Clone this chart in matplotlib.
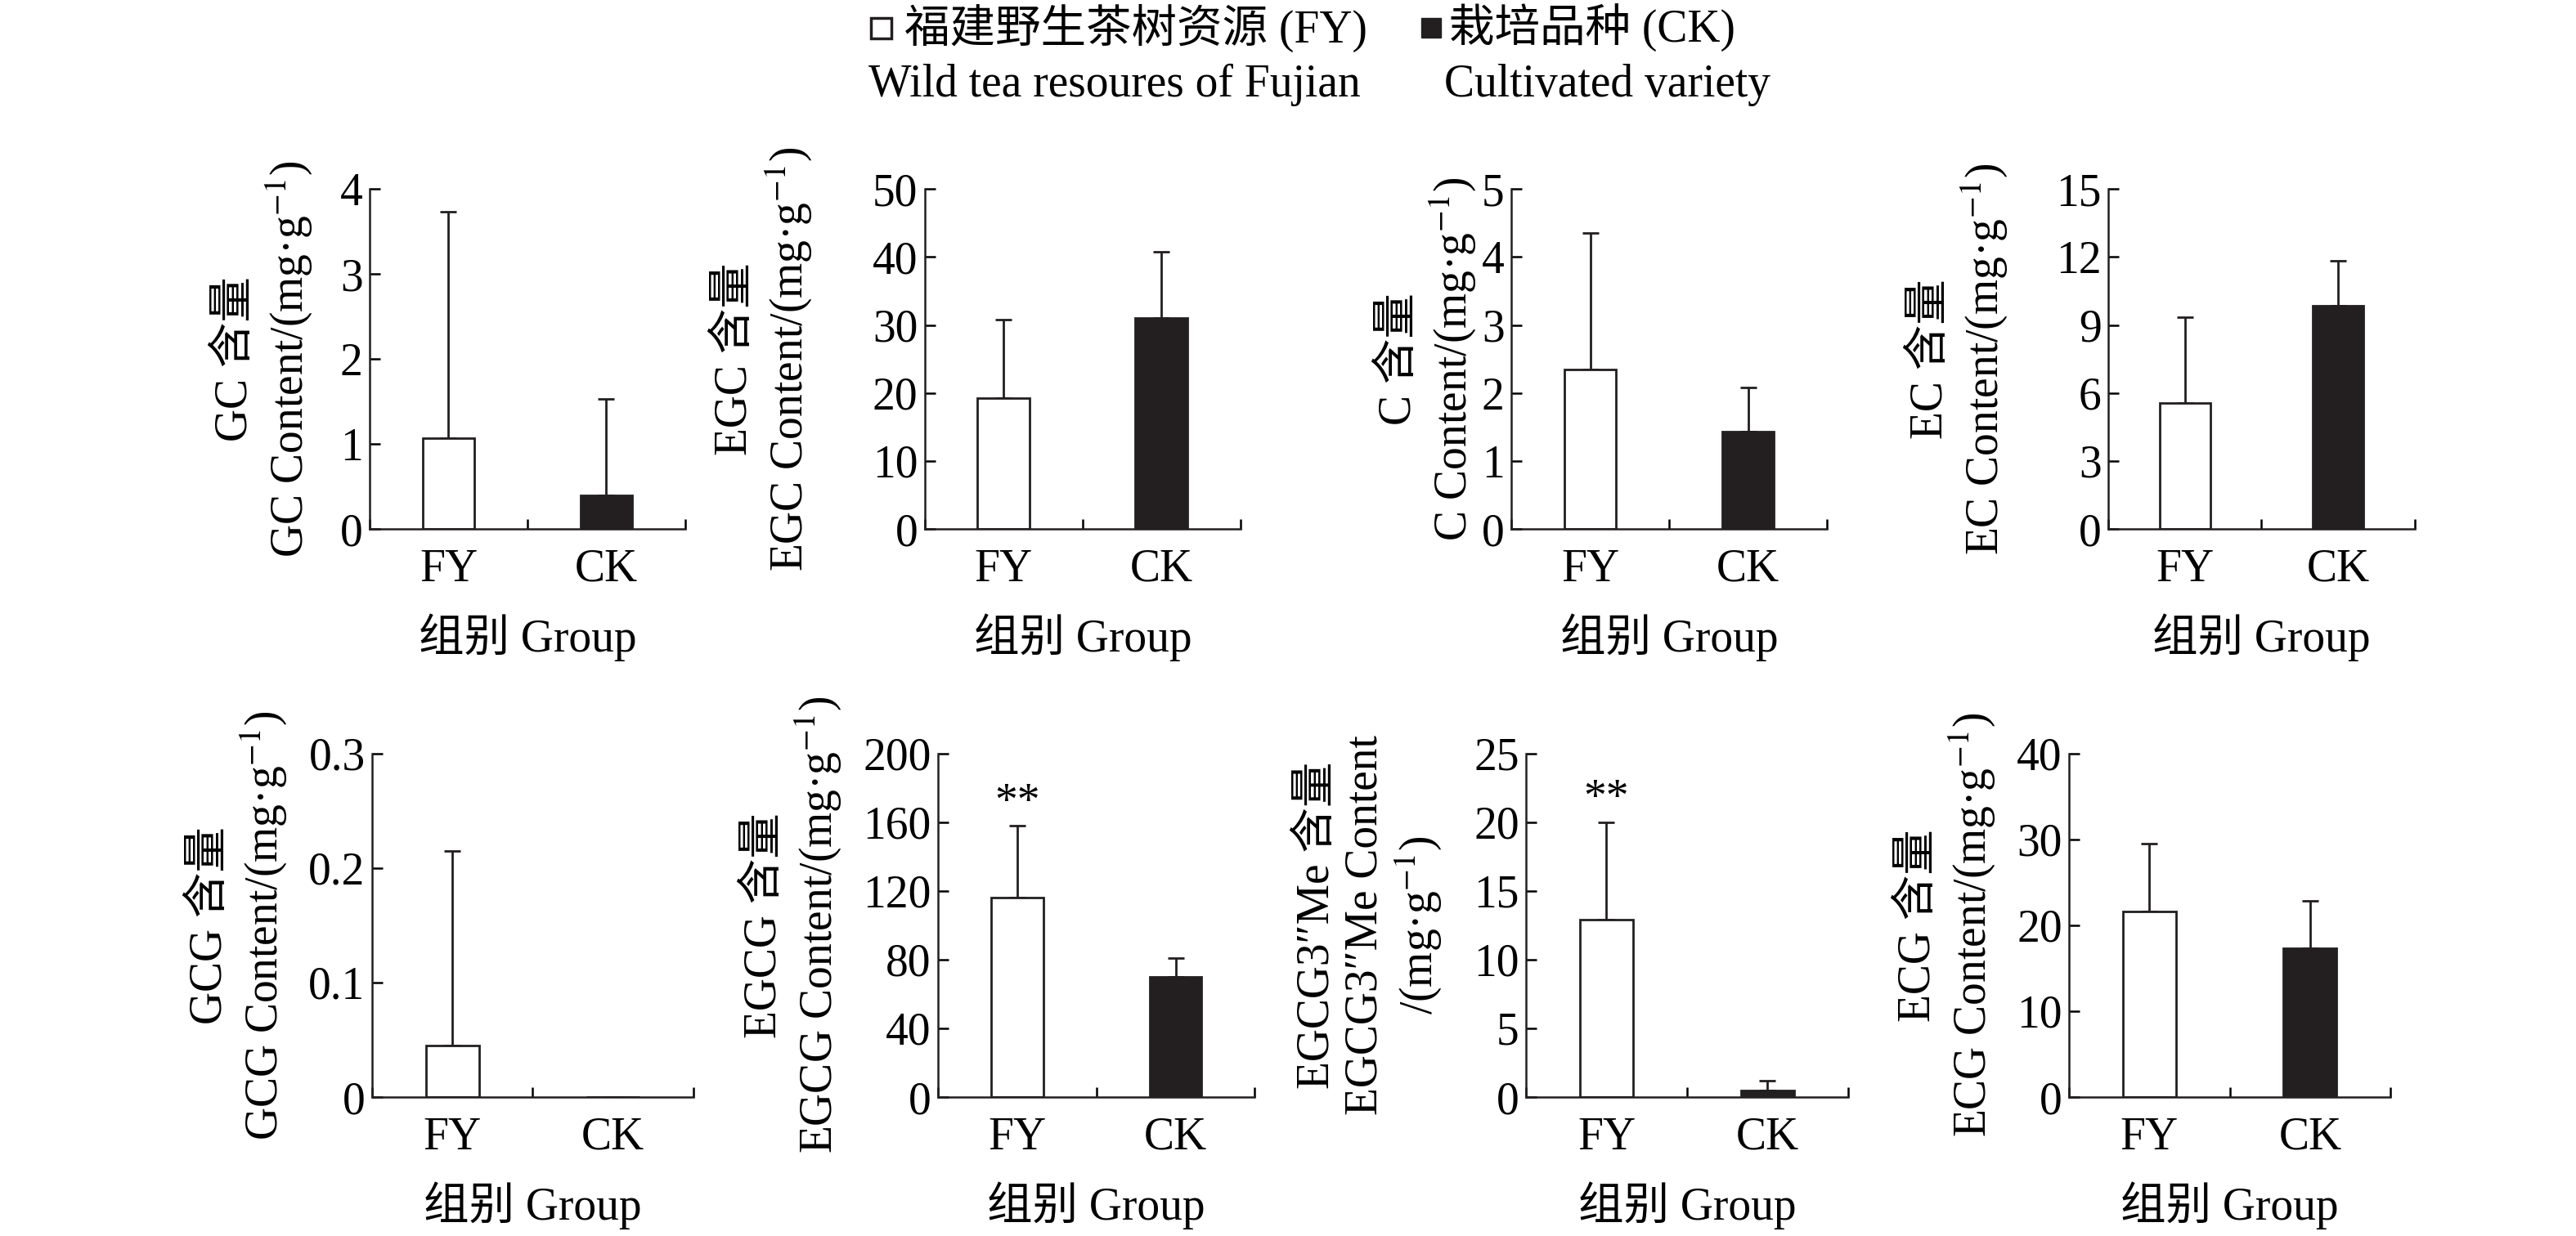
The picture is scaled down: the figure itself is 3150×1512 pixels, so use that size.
import numpy as np
import matplotlib
matplotlib.use("Agg")
import matplotlib.pyplot as plt
from matplotlib.lines import Line2D

plt.rcParams['font.family'] = ['Liberation Serif', 'Noto Sans CJK SC', 'DejaVu Sans']
plt.rcParams['mathtext.fontset'] = 'stix'

# Data
groups = ['FY', 'CK']
compounds = ['GC', 'EGC', 'C', 'EC', 'GCG', 'EGCG', 'EGCG3″Me', 'ECG']
fy_mean = [1.07, 19.3, 2.35, 5.55, 0.045, 116, 12.9, 21.6]
fy_top = [3.73, 30.8, 4.35, 9.35, 0.215, 158, 20.0, 29.5]
ck_mean = [0.40, 31.0, 1.43, 9.85, 0.0, 70, 0.45, 17.3]
ck_top = [1.53, 40.8, 2.08, 11.85, 0.0, 81, 1.2, 22.8]
y_max = [4, 50, 5, 15, 0.3, 200, 25, 40]
y_ticks = [
    [0, 1, 2, 3, 4],
    [0, 10, 20, 30, 40, 50],
    [0, 1, 2, 3, 4, 5],
    [0, 3, 6, 9, 12, 15],
    [0, 0.1, 0.2, 0.3],
    [0, 40, 80, 120, 160, 200],
    [0, 5, 10, 15, 20, 25],
    [0, 10, 20, 30, 40],
]
signif = ['', '', '', '', '', '**', '**', '']
ylabels = [
    'GC 含量\nGC Content/(mg·g$^{-1}$)',
    'EGC 含量\nEGC Content/(mg·g$^{-1}$)',
    'C 含量\nC Content/(mg·g$^{-1}$)',
    'EC 含量\nEC Content/(mg·g$^{-1}$)',
    'GCG 含量\nGCG Content/(mg·g$^{-1}$)',
    'EGCG 含量\nEGCG Content/(mg·g$^{-1}$)',
    'EGCG3″Me 含量\nEGCG3″Me Content\n/(mg·g$^{-1}$)',
    'ECG 含量\nECG Content/(mg·g$^{-1}$)',
]

# layout (figure fractions) and label offsets (axes fractions)
rects = [
    [0.1435, 0.572, 0.1225, 0.275],
    [0.359, 0.572, 0.1225, 0.275],
    [0.5867, 0.572, 0.1225, 0.275],
    [0.8184, 0.572, 0.119, 0.275],
    [0.1444, 0.1124, 0.1248, 0.278],
    [0.3641, 0.1124, 0.123, 0.278],
    [0.5924, 0.1124, 0.125, 0.278],
    [0.8032, 0.1124, 0.1248, 0.278],
]
ylab_x = [-0.335, -0.51, -0.265, -0.485, -0.415, -0.456, -0.485, -0.38]

FS = 40
LW = 2.0
dark = '#231f20'

fig = plt.figure(figsize=(31.5, 15.12), dpi=100)

x = np.array([0.5, 1.5])
for i in range(8):
    ax = fig.add_axes(rects[i])
    means = [fy_mean[i], ck_mean[i]]
    errs = [[0, 0], [fy_top[i] - fy_mean[i], ck_top[i] - ck_mean[i]]]
    ax.bar(x, means, width=0.33, color=['white', dark], edgecolor=dark,
           linewidth=LW, zorder=2)
    ax.errorbar(x, means, yerr=errs, fmt='none', ecolor=dark, elinewidth=LW,
                capsize=7, capthick=LW, zorder=1)
    if signif[i]:
        ax.annotate(signif[i], (x[0], fy_top[i]), xytext=(0, 1),
                    textcoords='offset points', ha='center', va='bottom',
                    fontsize=FS)
    ax.set_xlim(0, 2)
    ax.set_ylim(0, y_max[i])
    ax.set_yticks(y_ticks[i])
    ax.set_yticklabels([f'{t:g}' for t in y_ticks[i]])
    ax.set_xticks(x)
    ax.set_xticklabels(groups)
    ax.set_xticks([0, 1, 2], minor=True)
    ax.tick_params(axis='x', which='major', length=0, pad=17, labelsize=FS)
    ax.tick_params(axis='x', which='minor', direction='in', length=9, width=1.8)
    ax.tick_params(axis='y', direction='in', length=9, width=1.8, pad=6,
                   labelsize=FS)
    for s in ['top', 'right']:
        ax.spines[s].set_visible(False)
    for s in ['left', 'bottom']:
        ax.spines[s].set_linewidth(1.8)
        ax.spines[s].set_color(dark)
    ax.set_xlabel('组别 Group', fontsize=FS, labelpad=20)
    ax.text(ylab_x[i], 0.5, ylabels[i], transform=ax.transAxes, rotation=90,
            ha='center', va='center', fontsize=FS, linespacing=1.15,
            multialignment='center')

# legend
fig.add_artist(Line2D([0.342], [0.9775], marker='s', markersize=18,
                      markerfacecolor='white', markeredgecolor=dark,
                      markeredgewidth=2.5, linestyle='none',
                      transform=fig.transFigure))
fig.add_artist(Line2D([0.5555], [0.9775], marker='s', markersize=17,
                      markerfacecolor=dark, markeredgecolor=dark,
                      linestyle='none', transform=fig.transFigure))
fig.text(0.351, 0.9775, '福建野生茶树资源 (FY)', fontsize=FS, va='center')
fig.text(0.337, 0.931, 'Wild tea resoures of Fujian', fontsize=FS, va='center')
fig.text(0.5625, 0.9775, '栽培品种 (CK)', fontsize=FS, va='center')
fig.text(0.5605, 0.931, 'Cultivated variety', fontsize=FS, va='center')

fig.savefig('out.png', dpi=100, facecolor='white')
